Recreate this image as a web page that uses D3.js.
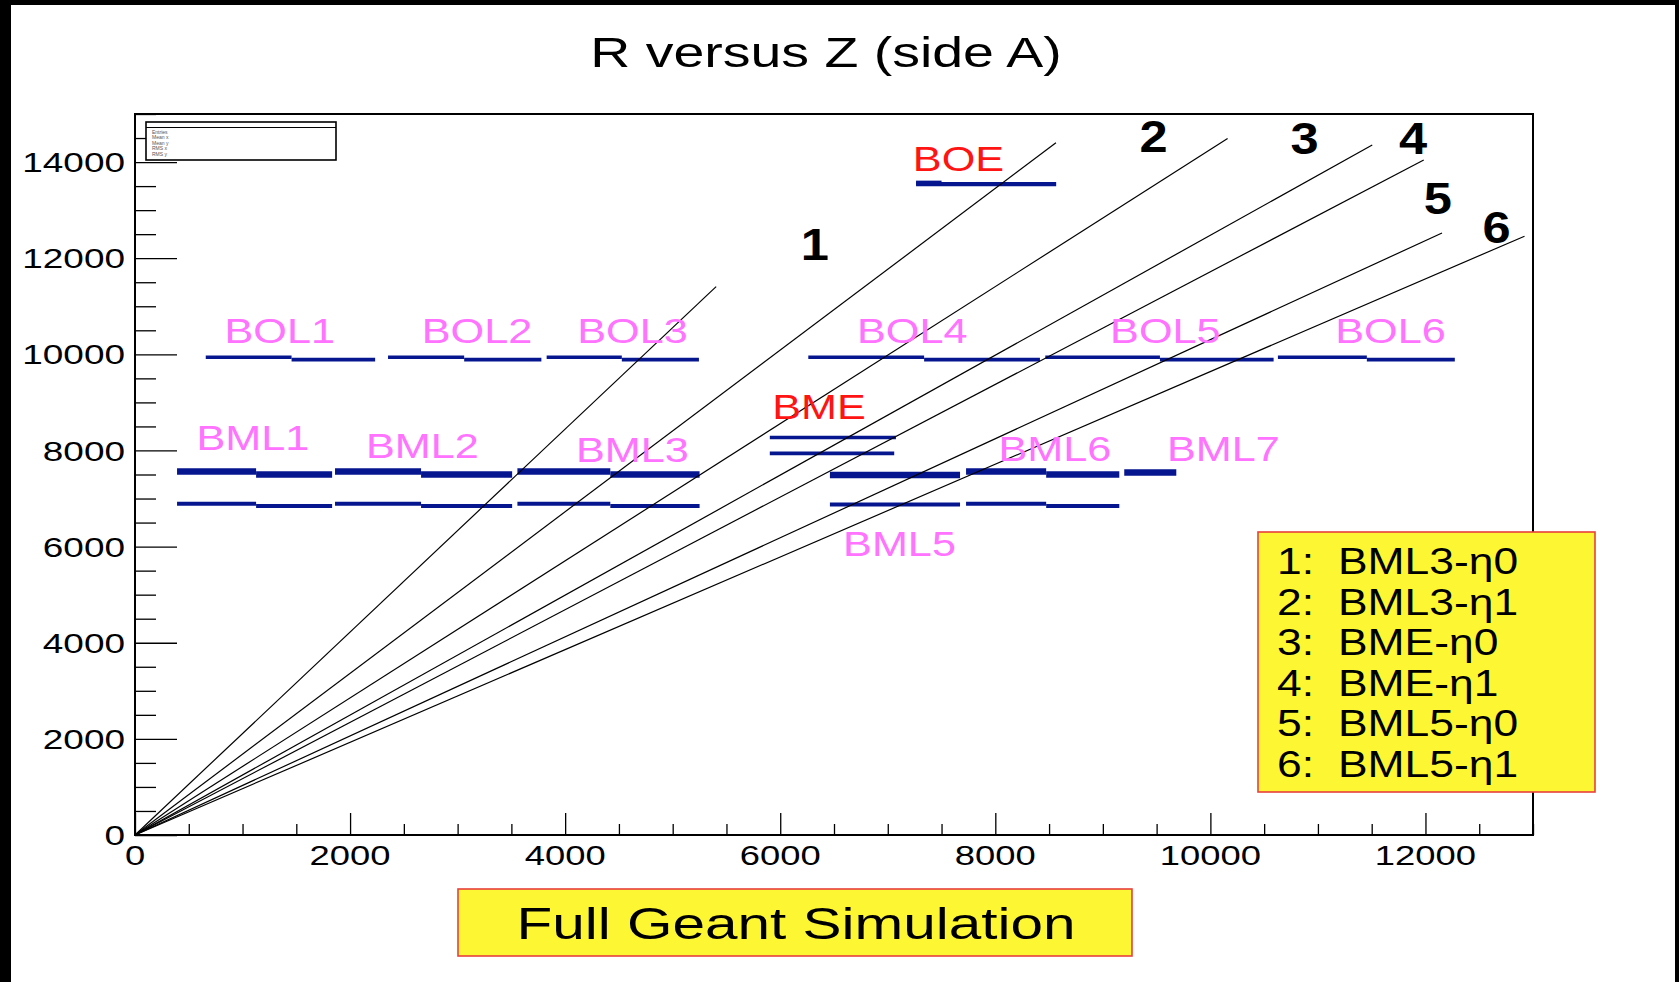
<!DOCTYPE html>
<html>
<head>
<meta charset="utf-8">
<script src="https://cdn.jsdelivr.net/npm/d3@7"></script>
<style>
  html, body { margin: 0; padding: 0; background: #fff; }
  svg { display: block; }
  text { font-family: "Liberation Sans", Arial, Helvetica, sans-serif; }
</style>
</head>
<body>
<script>
// ---------------- data ----------------
const xTickValues = [0, 2000, 4000, 6000, 8000, 10000, 12000];
const yTickValues = [0, 2000, 4000, 6000, 8000, 10000, 12000, 14000];

// straight lines from origin (Z, R) end points
const lineEndZ = [5404, 8564, 10160, 11505, 11984, 12154, 12921];
const lineEndR = [11409, 14400, 14490, 14356, 14043, 12525, 12458];

// line number annotations
const lineLabels = ["1", "2", "3", "4", "5", "6"];
const lineLabelZ = [6321, 9472, 10877, 11884, 12114, 12662];
const lineLabelR = [12302, 14535, 14490, 14490, 13240, 12637];

// chamber segments: Z start, Z end, R, kind
const segZ1 = [658, 1456, 2353, 3061, 3828, 4527, 6261, 7338, 8465, 9531, 10628, 11455,
               391, 1126, 1860, 2660, 3556, 4420, 6462, 7728, 8473, 9199,
               391, 1126, 1860, 2660, 3556, 4420, 6462, 7728, 8473,
               5903, 5903,
               7263, 7263];
const segZ2 = [1456, 2233, 3061, 3779, 4527, 5244, 7338, 8415, 9531, 10588, 11455, 12273,
               1126, 1833, 2660, 3507, 4420, 5250, 7672, 8473, 9153, 9683,
               1126, 1833, 2660, 3507, 4420, 5250, 7672, 8473, 9153,
               7076, 7060,
               8566, 7500];
const segR  = [9940, 9890, 9940, 9890, 9940, 9890, 9940, 9890, 9940, 9890, 9940, 9890,
               7560, 7500, 7560, 7500, 7560, 7500, 7490, 7560, 7500, 7540,
               6890, 6845, 6890, 6845, 6890, 6845, 6875, 6890, 6845,
               8270, 7940,
               13540, 13570];
const segKind = ["BOL","BOL","BOL","BOL","BOL","BOL","BOL","BOL","BOL","BOL","BOL","BOL",
                 "BMLup","BMLup","BMLup","BMLup","BMLup","BMLup","BMLup","BMLup","BMLup","BMLup",
                 "BMLlo","BMLlo","BMLlo","BMLlo","BMLlo","BMLlo","BMLlo","BMLlo","BMLlo",
                 "BME","BME",
                 "BOE","BOE"];

// chamber name annotations
const chamberNames = ["BOL1","BOL2","BOL3","BOL4","BOL5","BOL6",
                      "BML1","BML2","BML3","BML6","BML7","BML5","BME","BOE"];
const chamberZ = [1346, 3180, 4626, 7228, 9581, 11675, 1097, 2672, 4626, 8554, 10120, 7109, 6361, 7657];
const chamberR = [10516, 10516, 10516, 10516, 10516, 10516, 8283, 8104, 8037, 8060, 8060, 6073, 8931, 14088];
const chamberRed = ["BME", "BOE"];

// legend entries
const legendNums = ["1:", "2:", "3:", "4:", "5:", "6:"];
const legendNames = ["BML3-η0", "BML3-η1", "BME-η0", "BME-η1", "BML5-η0", "BML5-η1"];

const statNames = ["Entries", "Mean x", "Mean y", "RMS x", "RMS y"];

// ---------------- drawing ----------------
const W = 1679, H = 982;
const svg = d3.select("body").append("svg").attr("width", W).attr("height", H);

svg.append("rect").attr("width", W).attr("height", H).attr("fill", "#fff");
// black borders of the screenshot
svg.append("rect").attr("x", 0).attr("y", 0).attr("width", W).attr("height", 5).attr("fill", "#000");
svg.append("rect").attr("x", 0).attr("y", 0).attr("width", 11).attr("height", H).attr("fill", "#000");
svg.append("rect").attr("x", W - 4).attr("y", 0).attr("width", 4).attr("height", H).attr("fill", "#000");

const L = 135, R = 1533, T = 114, B = 835;
const x = d3.scaleLinear().domain([0, 13000]).range([L, R]);
const y = d3.scaleLinear().domain([0, 15000]).range([B, T]);

function sText(parent, px, py, str, o) {
  const g = parent.append("g")
    .attr("transform", `translate(${px},${py}) scale(${o.sx || 1.2},1)`);
  const t = g.append("text")
    .attr("text-anchor", o.anchor || "middle")
    .attr("font-size", o.size)
    .attr("font-weight", o.weight || "normal")
    .attr("fill", o.fill || "#000")
    .text(str);
  if (o.dy) t.attr("dy", o.dy);
  return t;
}

// title
sText(svg, 826, 67, "R versus Z (side A)", { size: 43, sx: 1.29 });

// axes ticks (inward)
const minorX = d3.range(0, 13001, 500).filter(v => v % 2000 !== 0);
const minorY = d3.range(0, 15001, 500).filter(v => v % 2000 !== 0);

const xMajor = d3.axisBottom(x).tickValues(xTickValues).tickSize(-22).tickFormat("");
const xMinor = d3.axisBottom(x).tickValues(minorX).tickSize(-11).tickFormat("");
const yMajor = d3.axisLeft(y).tickValues(yTickValues).tickSize(-42).tickFormat("");
const yMinor = d3.axisLeft(y).tickValues(minorY).tickSize(-21).tickFormat("");

[[xMajor, `translate(0,${B})`], [xMinor, `translate(0,${B})`],
 [yMajor, `translate(${L},0)`], [yMinor, `translate(${L},0)`]].forEach(([ax, tr]) => {
  const g = svg.append("g").attr("transform", tr).call(ax);
  g.select(".domain").remove();
  g.selectAll(".tick line").attr("stroke", "#000").attr("stroke-width", 1.3);
});

// tick labels
xTickValues.forEach(v => sText(svg, x(v), 865, String(v), { size: 28, sx: 1.3 }));
yTickValues.forEach(v => sText(svg, 125, y(v), String(v), { size: 28, sx: 1.32, anchor: "end", dy: "0.36em" }));

// frame
svg.append("rect").attr("x", L).attr("y", T).attr("width", R - L).attr("height", B - T)
  .attr("fill", "none").attr("stroke", "#000").attr("stroke-width", 2);

// stats box
const sb = svg.append("g");
sb.append("rect").attr("x", 146).attr("y", 122).attr("width", 190).attr("height", 38)
  .attr("fill", "#fff").attr("stroke", "#000").attr("stroke-width", 1.6);
sb.append("line").attr("x1", 146).attr("x2", 336).attr("y1", 127.5).attr("y2", 127.5)
  .attr("stroke", "#000").attr("stroke-width", 1);
statNames.forEach((s, i) => {
  sb.append("text").attr("x", 152).attr("y", 134 + i * 5.4).attr("font-size", 5)
    .attr("fill", "#555").text(s);
});

// chamber segments
const segWidth = { BOL: 3.6, BMLup: 6.5, BMLlo: 4, BME: 3.6, BOE: 4.2 };
const segColor = "#06168f";
svg.append("g").selectAll("line").data(d3.range(segZ1.length)).join("line")
  .attr("x1", i => x(segZ1[i])).attr("x2", i => x(segZ2[i]))
  .attr("y1", i => y(segR[i])).attr("y2", i => y(segR[i]))
  .attr("stroke", segColor).attr("stroke-width", i => segWidth[segKind[i]]);

// lines from origin
svg.append("g").selectAll("line").data(d3.range(lineEndZ.length)).join("line")
  .attr("x1", x(0)).attr("y1", y(0))
  .attr("x2", i => x(lineEndZ[i])).attr("y2", i => y(lineEndR[i]))
  .attr("stroke", "#000").attr("stroke-width", 1.2);

// chamber names
chamberNames.forEach((n, i) => {
  sText(svg, x(chamberZ[i]), y(chamberR[i]), n, {
    size: 36, sx: 1.2, dy: "0.36em",
    fill: chamberRed.includes(n) ? "#ff1414" : "#ff73ff"
  });
});

// line numbers
lineLabels.forEach((n, i) => {
  sText(svg, x(lineLabelZ[i]), y(lineLabelR[i]), n, { size: 44, sx: 1.15, weight: "bold", dy: "0.36em" });
});

// legend box
svg.append("rect").attr("x", 1258).attr("y", 532).attr("width", 337).attr("height", 260)
  .attr("fill", "#fdf733").attr("stroke", "#e8403c").attr("stroke-width", 1.6);
legendNums.forEach((n, i) => {
  const cy = 561 + i * 40.5;
  sText(svg, 1277, cy, n, { size: 37, sx: 1.2, anchor: "start", dy: "0.36em" });
  sText(svg, 1338, cy, legendNames[i], { size: 37, sx: 1.2, anchor: "start", dy: "0.36em" });
});

// footer box
svg.append("rect").attr("x", 458).attr("y", 889).attr("width", 674).attr("height", 67)
  .attr("fill", "#fdf733").attr("stroke", "#e8403c").attr("stroke-width", 1.6);
sText(svg, 796, 923, "Full Geant Simulation", { size: 45, sx: 1.3, dy: "0.36em" });
</script>
</body>
</html>
